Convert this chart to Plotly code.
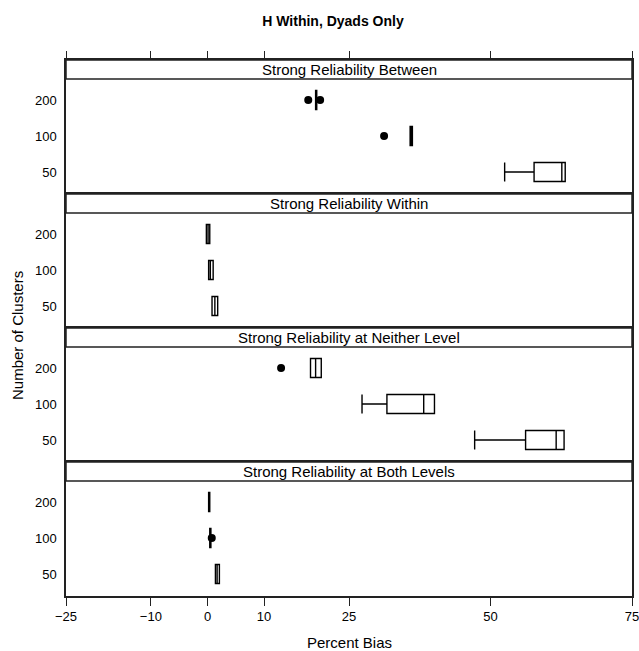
import plotly.graph_objects as go

# ---------------- data ----------------
clusters = ["50", "100", "200"]
cluster_pos = [1, 2, 3]
panel_titles = [
    "Strong Reliability Between",
    "Strong Reliability Within",
    "Strong Reliability at Neither Level",
    "Strong Reliability at Both Levels",
]
x_ticks = [-25, -10, 0, 10, 25, 50, 75]

# order of each list: clusters 50, 100, 200
between_low = [52.5, 35.8, 19.1]
between_q1 = [57.7, 35.8, 19.1]
between_med = [62.6, 36.0, 19.2]
between_q3 = [63.2, 36.2, 19.3]
between_high = [63.2, 36.2, 19.3]
between_out_x = [31.2, 17.8, 19.9]
between_out_y = ["100", "200", "200"]

within_low = [0.8, 0.2, -0.2]
within_q1 = [0.8, 0.2, -0.2]
within_med = [1.3, 0.5, 0.1]
within_q3 = [1.8, 1.0, 0.4]
within_high = [1.8, 1.0, 0.4]
within_out_x = []
within_out_y = []

neither_low = [47.2, 27.3, 18.2]
neither_q1 = [56.2, 31.7, 18.2]
neither_med = [61.6, 38.2, 19.1]
neither_q3 = [63.0, 40.1, 20.1]
neither_high = [63.0, 40.1, 20.1]
neither_out_x = [13.0]
neither_out_y = ["200"]

both_low = [1.4, 0.4, 0.2]
both_q1 = [1.4, 0.4, 0.2]
both_med = [1.7, 0.5, 0.3]
both_q3 = [2.1, 0.6, 0.4]
both_high = [2.1, 0.6, 0.4]
both_out_x = [0.75]
both_out_y = ["100"]

panels = [
    (between_low, between_q1, between_med, between_q3, between_high, between_out_x, between_out_y),
    (within_low, within_q1, within_med, within_q3, within_high, within_out_x, within_out_y),
    (neither_low, neither_q1, neither_med, neither_q3, neither_high, neither_out_x, neither_out_y),
    (both_low, both_q1, both_med, both_q3, both_high, both_out_x, both_out_y),
]

# ---------------- figure ----------------
FONT = "Liberation Sans, Arial, Helvetica, sans-serif"
INK = "#000000"
W, H = 639, 651
ML, MR, MT, MB = 66, 7, 60, 55
plot_h = H - MT - MB
strip_frac = 115 / 134  # panel part of each block (rest is strip)
pos_of = dict(zip(clusters, cluster_pos))

fig = go.Figure()
layout = dict(
    width=W, height=H,
    margin=dict(l=ML, r=MR, t=MT, b=MB, autoexpand=False),
    paper_bgcolor="white", plot_bgcolor="white",
    showlegend=False,
    font=dict(family=FONT, color=INK),
    title=dict(text="<b>H Within, Dyads Only</b>", x=333 / W, xref="container",
               y=1 - 21 / H, yref="container", xanchor="center", yanchor="middle",
               font=dict(size=14, family=FONT, color=INK)),
)
shapes, annotations = [], []
n = len(panels)
for i, (lo, q1, med, q3, hi, ox, oy) in enumerate(panels):
    k = i + 1
    xs = "x" if k == 1 else f"x{k}"
    ys = "y" if k == 1 else f"y{k}"
    fig.add_trace(go.Box(
        y=cluster_pos, q1=q1, median=med, q3=q3, lowerfence=lo, upperfence=hi,
        orientation="h", width=0.53, whiskerwidth=1,
        fillcolor="white", line=dict(color="black", width=1.4),
        boxpoints=False, hoverinfo="skip", xaxis=xs, yaxis=ys,
    ))
    if ox:
        fig.add_trace(go.Scatter(
            x=ox, y=[pos_of[c] for c in oy], mode="markers",
            marker=dict(color="black", size=8), hoverinfo="skip",
            xaxis=xs, yaxis=ys,
        ))
    top = 1 - i / n
    bot = 1 - (i + 1) / n
    xkey = "xaxis" if k == 1 else f"xaxis{k}"
    ykey = "yaxis" if k == 1 else f"yaxis{k}"
    xa = dict(
        anchor=ys, domain=[0, 1], range=[-25, 75], automargin=False,
        tickmode="array", tickvals=x_ticks, ticklabeloverflow="allow",
        showgrid=False, zeroline=False,
        showline=True, mirror=True, linecolor="#222222", linewidth=1.5,
        ticks="", showticklabels=False,
        tickfont=dict(size=13, family=FONT, color=INK),
    )
    if k == 1:
        xa.update(side="top", ticks="outside", ticklen=7, tickwidth=1.3, tickcolor="#222222")
    if k == n:
        xa.update(ticks="outside", ticklen=8, tickwidth=1.3, tickcolor="#222222",
                  showticklabels=True)
    layout[xkey] = xa
    layout[ykey] = dict(
        anchor=xs, domain=[bot, top], range=[0.39, 4.11], automargin=False,
        tickmode="array", tickvals=cluster_pos, ticktext=clusters,
        showgrid=False, zeroline=False,
        showline=True, mirror=True, linecolor="#222222", linewidth=1.5,
        ticks="", ticklabelstandoff=5,
        tickfont=dict(size=13, family=FONT, color=INK),
    )
    shapes.append(dict(type="rect", xref=f"{xs} domain", yref=f"{ys} domain",
                       x0=0, x1=1, y0=strip_frac, y1=1,
                       line=dict(color="#222222", width=1.5), fillcolor="white",
                       layer="above"))
    annotations.append(dict(text=panel_titles[i], xref=f"{xs} domain", yref=f"{ys} domain",
                            x=0.5, y=(1 + strip_frac) / 2, xanchor="center", yanchor="middle",
                            showarrow=False, font=dict(size=15, family=FONT, color=INK)))

annotations.append(dict(text="Percent Bias", xref="paper", yref="paper",
                        x=0.5, y=(H - MB - 642) / plot_h, xanchor="center", yanchor="middle",
                        showarrow=False, font=dict(size=15, family=FONT, color=INK)))
annotations.append(dict(text="Number of Clusters", xref="paper", yref="paper",
                        x=(17 - ML) / (W - ML - MR), y=(H - MB - 336) / plot_h,
                        xanchor="center", yanchor="middle", textangle=-90,
                        showarrow=False, font=dict(size=15, family=FONT, color=INK)))
layout["shapes"] = shapes
layout["annotations"] = annotations
fig.update_layout(**layout)
fig.write_html("out.html")
